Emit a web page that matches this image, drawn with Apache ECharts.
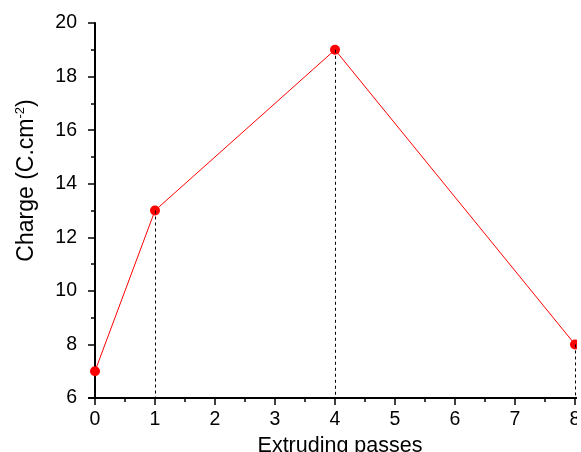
<!DOCTYPE html>
<html>
<head>
<meta charset="utf-8">
<script src="https://cdn.jsdelivr.net/npm/echarts@6/dist/echarts.min.js"></script>
<style>
  html, body { margin: 0; padding: 0; background: #fff; }
  #chart { width: 577px; height: 452px; }
</style>
</head>
<body>
<div id="chart"></div>
<script>
// extruding passes vs charge
const passes = [0, 1, 4, 8];
const charge = [7, 13, 19, 8];
const xTicks = [0, 1, 2, 3, 4, 5, 6, 7, 8];
const xMinorTicks = [0.5, 1.5, 2.5, 3.5, 4.5, 5.5, 6.5, 7.5];

const font = 'Liberation Sans, Arial, sans-serif';
const black = '#000';

// dashed drop lines from each point (except the first) to the x axis
const dropLines = passes
  .map((p, i) => [{ coord: [p, charge[i]] }, { coord: [p, 6] }])
  .filter((_, i) => passes[i] > 0);

const chart = echarts.init(document.getElementById('chart'), null, { renderer: 'canvas' });

chart.setOption({
  animation: false,
  grid: { left: 89, right: 0, top: 23, bottom: 54, outerBoundsMode: 'none', containLabel: false },
  xAxis: [
    {
      type: 'value',
      min: -0.1,
      max: 8.0333,
      name: 'Extruding passes',
      nameLocation: 'middle',
      nameGap: 25,
      nameTextStyle: { fontFamily: font, fontSize: 21.5, color: black, padding: [0, 0, 0, 14] },
      axisLine: { onZero: false, lineStyle: { color: black, width: 2 } },
      axisTick: { customValues: xTicks, length: 7, lineStyle: { color: black, width: 1.5 } },
      axisLabel: { customValues: xTicks, margin: 12, fontFamily: font, fontSize: 19.5, color: black },
      splitLine: { show: false }
    },
    {
      type: 'value',
      min: -0.1,
      max: 8.0333,
      position: 'bottom',
      axisLine: { show: false },
      axisTick: { customValues: xMinorTicks, length: 4, lineStyle: { color: black, width: 1.5 } },
      axisLabel: { show: false },
      splitLine: { show: false }
    }
  ],
  yAxis: {
    type: 'value',
    min: 6,
    max: 20,
    interval: 2,
    name: '{a|Charge (C.cm}{s|-2}{a|)}',
    nameLocation: 'middle',
    nameGap: 50,
    nameTextStyle: {
      padding: [0, 0, 0, 60],
      rich: {
        a: { fontFamily: font, fontSize: 23, color: black },
        s: { fontFamily: font, fontSize: 13, color: black, verticalAlign: 'top', padding: [0, 0, 12, 0] }
      }
    },
    axisLine: { show: true, lineStyle: { color: black, width: 2 } },
    axisTick: { show: true, length: 7, lineStyle: { color: black, width: 1.5 } },
    minorTick: { show: true, splitNumber: 2, length: 4, lineStyle: { color: black, width: 1.5 } },
    axisLabel: { margin: 12, fontFamily: font, fontSize: 19.5, color: black },
    splitLine: { show: false }
  },
  series: [
    {
      type: 'line',
      data: passes.map((p, i) => [p, charge[i]]),
      symbol: 'circle',
      symbolSize: 10,
      itemStyle: { color: '#ff0000' },
      lineStyle: { color: '#ff0000', width: 1 },
      markLine: {
        silent: true,
        symbol: 'none',
        label: { show: false },
        lineStyle: { color: black, type: [3, 3], width: 1 },
        data: dropLines
      },
      z: 3
    }
  ]
});
</script>
</body>
</html>
